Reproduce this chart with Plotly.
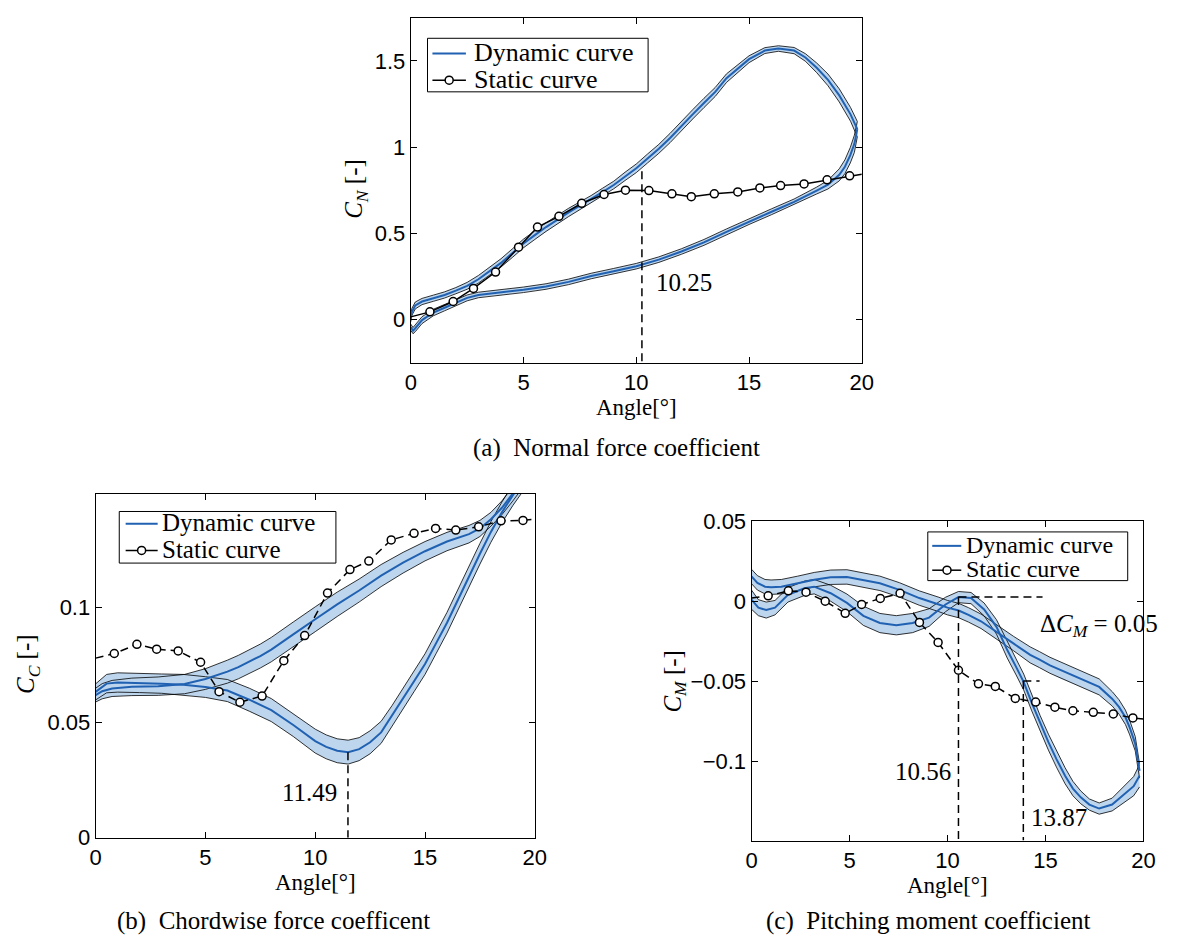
import plotly.graph_objects as go

W, H = 1186, 949

# ---------------- data ----------------
# Shared static-measurement angles (first/last entries are the line ends at 0 and 20 deg)
static_angle = [0, 0.85, 1.88, 2.78, 3.76, 4.78, 5.62, 6.57, 7.58, 8.57, 9.52,
                10.56, 11.58, 12.44, 13.46, 14.50, 15.48, 16.40, 17.44, 18.46, 19.46, 20]

# (a) Normal force coefficient
cn_static = [0.015, 0.044, 0.104, 0.180, 0.275, 0.419, 0.536, 0.598, 0.674, 0.725, 0.750,
             0.748, 0.729, 0.712, 0.729, 0.740, 0.763, 0.777, 0.786, 0.810, 0.833, 0.843]
cn_up_angle = [0, 0.05, 0.2, 0.5, 1, 1.5, 2, 2.5, 3, 3.5, 4, 4.5, 5, 5.5, 6, 7, 8, 8.5, 9, 9.5,
               10, 10.5, 11, 11.5, 12, 12.5, 13, 13.5, 14, 14.5, 15, 15.7, 16.3, 17, 17.5, 18,
               18.5, 19, 19.5, 19.8]
cn_up_mean = [0.006, 0.044, 0.081, 0.104, 0.123, 0.142, 0.167, 0.195, 0.233, 0.280, 0.328,
              0.384, 0.441, 0.489, 0.536, 0.621, 0.697, 0.739, 0.780, 0.830, 0.877, 0.934,
              0.990, 1.053, 1.123, 1.190, 1.256, 1.320, 1.400, 1.455, 1.510, 1.560, 1.572,
              1.560, 1.520, 1.460, 1.390, 1.300, 1.190, 1.104]
cn_up_std = [0.020, 0.020, 0.020, 0.018, 0.018, 0.018, 0.018, 0.020, 0.022, 0.024, 0.024,
             0.025, 0.025, 0.025, 0.025, 0.024, 0.022, 0.022, 0.022, 0.024, 0.025, 0.026,
             0.026, 0.027, 0.027, 0.027, 0.027, 0.026, 0.025, 0.022, 0.020, 0.017, 0.016,
             0.018, 0.022, 0.028, 0.034, 0.038, 0.040, 0.045]
cn_dn_angle = [19.8, 19.67, 19.49, 19.25, 19.0, 18.5, 18.0, 17.5, 17.0, 16, 15, 14, 13, 12, 11,
               10, 9, 8, 7, 6, 5, 4, 3.5, 3, 2.5, 2, 1.5, 1, 0.5, 0.2, 0.1, 0]
cn_dn_mean = [1.104, 1.019, 0.953, 0.886, 0.839, 0.782, 0.748, 0.716, 0.682, 0.625, 0.568,
              0.508, 0.447, 0.394, 0.347, 0.309, 0.280, 0.252, 0.218, 0.191, 0.172, 0.157,
              0.152, 0.142, 0.125, 0.095, 0.068, 0.040, -0.004, -0.051, -0.065, -0.045]
cn_dn_std = [0.045, 0.050, 0.045, 0.040, 0.035, 0.025, 0.020, 0.018, 0.017, 0.017, 0.017,
             0.017, 0.017, 0.016, 0.016, 0.016, 0.016, 0.016, 0.016, 0.016, 0.016, 0.016,
             0.016, 0.016, 0.017, 0.018, 0.018, 0.019, 0.020, 0.020, 0.018, 0.018]
cn_mark_angle, cn_mark_top = 10.25, 0.86

# (b) Chordwise force coefficient
cc_static = [0.0781, 0.0801, 0.0841, 0.0820, 0.0812, 0.0763, 0.0635, 0.0589, 0.0616, 0.0770,
             0.0879, 0.1064, 0.1166, 0.1203, 0.1295, 0.1324, 0.1345, 0.1338, 0.1352, 0.1378,
             0.1380, 0.1385]
cc_up_angle = [0, 0.3, 0.75, 1.65, 2.85, 4.05, 5, 5.5, 6, 6.5, 7, 7.5, 8, 8.5, 9, 10, 11, 12,
               13, 14, 15, 16, 17, 17.5, 18, 18.5, 19, 19.5, 20]
cc_up_mean = [0.0620, 0.0637, 0.0649, 0.0656, 0.0659, 0.0668, 0.0690, 0.0705, 0.0722, 0.0742,
              0.0765, 0.0790, 0.0818, 0.0850, 0.0884, 0.0950, 0.1015, 0.1075, 0.1140, 0.1196,
              0.1246, 0.1288, 0.1320, 0.1345, 0.1385, 0.1435, 0.1495, 0.1560, 0.1625]
cc_up_std = [0.0030, 0.0033, 0.0035, 0.0038, 0.0040, 0.0042, 0.0045, 0.0047, 0.0050, 0.0051,
             0.0052, 0.0052, 0.0053, 0.0053, 0.0054, 0.0054, 0.0053, 0.0050, 0.0048, 0.0045,
             0.0042, 0.0040, 0.0038, 0.0035, 0.0030, 0.0030, 0.0030, 0.0030, 0.0030]
cc_dn_angle = [20, 19.5, 19, 18.5, 18, 17.5, 17, 16.5, 16, 15.5, 15, 14.5, 14, 13.5, 13, 12.5,
               12, 11.5, 11, 10.5, 10, 9, 8, 7, 6, 5, 4, 3, 2, 1, 0.5, 0]
cc_dn_mean = [0.1625, 0.1560, 0.1490, 0.1415, 0.1330, 0.1235, 0.1135, 0.1035, 0.0935, 0.0845,
              0.0755, 0.0680, 0.0605, 0.0530, 0.0458, 0.0415, 0.0385, 0.0372, 0.0378, 0.0395,
              0.0420, 0.0490, 0.0555, 0.0600, 0.0640, 0.0655, 0.0665, 0.0670, 0.0673, 0.0675,
              0.0670, 0.0634]
cc_dn_std = [0.0045, 0.0045, 0.0045, 0.0045, 0.0045, 0.0045, 0.0045, 0.0045, 0.0045, 0.0045,
             0.0045, 0.0045, 0.0045, 0.0045, 0.0048, 0.0050, 0.0050, 0.0052, 0.0052, 0.0052,
             0.0052, 0.0050, 0.0050, 0.0050, 0.0048, 0.0045, 0.0045, 0.0042, 0.0042, 0.0042,
             0.0040, 0.0035]
cc_mark_angle, cc_mark_top = 11.49, 0.0372

# (c) Pitching moment coefficient
cm_static = [0.0020, 0.0034, 0.0065, 0.0057, 0.0000, -0.0075, -0.0020, 0.0018, 0.0050, -0.0132,
             -0.0257, -0.0431, -0.0516, -0.0532, -0.0607, -0.0630, -0.0662, -0.0684, -0.0694,
             -0.0704, -0.0729, -0.0735]
cm_up_angle = [0, 0.35, 0.75, 1.2, 1.86, 2.7, 3.2, 4.04, 4.87, 5.71, 6.55, 7.39, 8.22, 9.06,
               9.9, 10.56, 11.2, 11.87, 12.5, 13.05, 13.5, 13.89, 14.3, 14.72, 15.15, 15.56,
               16.0, 16.4, 16.8, 17.24, 17.74, 18.4, 19.08, 19.5, 19.8]
cm_up_mean = [0.0010, -0.0040, -0.0055, -0.0040, 0.0040, 0.0081, 0.0091, 0.0050, -0.0010,
              -0.0091, -0.0136, -0.0150, -0.0136, -0.0102, -0.0020, 0.0026, 0.0020, -0.0051,
              -0.0160, -0.0305, -0.0410, -0.0505, -0.0635, -0.0762, -0.0880, -0.0986, -0.1090,
              -0.1170, -0.1225, -0.1270, -0.1295, -0.1270, -0.1200, -0.1155, -0.1090]
cm_up_std = [0.0060, 0.0050, 0.0050, 0.0045, 0.0045, 0.0045, 0.0045, 0.0050, 0.0055, 0.0060,
             0.0060, 0.0060, 0.0060, 0.0055, 0.0045, 0.0035, 0.0035, 0.0040, 0.0045, 0.0050,
             0.0050, 0.0050, 0.0050, 0.0050, 0.0050, 0.0050, 0.0050, 0.0045, 0.0040, 0.0035,
             0.0035, 0.0040, 0.0050, 0.0060, 0.0070]
cm_dn_angle = [19.8, 19.75, 19.58, 19.3, 19.08, 18.75, 18.41, 17.74, 17.0, 16.4, 15.8, 15.23,
               14.7, 14.22, 13.38, 12.55, 11.71, 11.07, 10.57, 10.0, 9.56, 8.56, 7.55, 6.55,
               5.7, 4.87, 4.04, 3.2, 2.36, 1.52, 1.0, 0.69, 0.3, 0.05, 0]
cm_dn_mean = [-0.1060, -0.1015, -0.0890, -0.0790, -0.0725, -0.0660, -0.0610, -0.0535, -0.0495,
              -0.0465, -0.0435, -0.0400, -0.0365, -0.0335, -0.0265, -0.0195, -0.0125, -0.0085,
              -0.0058, -0.0040, -0.0020, 0.0020, 0.0071, 0.0112, 0.0132, 0.0152, 0.0150,
              0.0135, 0.0112, 0.0091, 0.0088, 0.0091, 0.0115, 0.0152, 0.0155]
cm_dn_std = [0.0045] * 7 + [0.0050] * 7 + [0.0045] * 21
cm_peak_angle, cm_peak_value = 10.56, 0.0026
cm_drop_angle, cm_drop_value = 13.87, -0.0498
cm_peak_line_end, cm_drop_line_end = 14.85, 14.70

x_ticks = [0, 5, 10, 15, 20]
legend_labels = ['Dynamic curve', 'Static curve']

# ---------------- style ----------------
BLUE = '#2161b2'
FILL = '#bdd6ee'
SERIF = 'Liberation Serif'
SANS = 'Liberation Sans'
DASH = '8px,5px'


def px(x):
    return x / W


def py(y):
    return 1 - y / H


fig = go.Figure()


def add_dynamic(branches, xa, ya):
    for ang, mean, std in branches:
        upper = [m + s for m, s in zip(mean, std)]
        lower = [m - s for m, s in zip(mean, std)]
        fig.add_trace(go.Scatter(x=ang + ang[::-1], y=upper + lower[::-1], fill='toself',
                                 fillcolor=FILL, mode='lines', line=dict(width=0),
                                 hoverinfo='skip', xaxis=xa, yaxis=ya))
    for ang, mean, std in branches:
        upper = [m + s for m, s in zip(mean, std)]
        lower = [m - s for m, s in zip(mean, std)]
        for edge in (upper, lower):
            fig.add_trace(go.Scatter(x=ang, y=edge, mode='lines',
                                     line=dict(color='black', width=0.8),
                                     hoverinfo='skip', xaxis=xa, yaxis=ya))
    for ang, mean, std in branches:
        fig.add_trace(go.Scatter(x=ang, y=mean, mode='lines', line=dict(color=BLUE, width=2),
                                 name=legend_labels[0], xaxis=xa, yaxis=ya))


def add_static(vals, xa, ya, dash):
    fig.add_trace(go.Scatter(x=static_angle, y=vals, mode='lines',
                             line=dict(color='black', width=1.5, dash=dash),
                             hoverinfo='skip', xaxis=xa, yaxis=ya))
    fig.add_trace(go.Scatter(x=static_angle[1:-1], y=vals[1:-1], mode='markers',
                             name=legend_labels[1],
                             marker=dict(symbol='circle', size=8, color='white',
                                         line=dict(color='black', width=1.5)),
                             xaxis=xa, yaxis=ya))


def add_dashed(xs, ys, xa, ya):
    fig.add_trace(go.Scatter(x=xs, y=ys, mode='lines',
                             line=dict(color='black', width=1.5, dash=DASH),
                             hoverinfo='skip', xaxis=xa, yaxis=ya))


CN_RANGE = [-0.25, 1.75]
CC_RANGE = [0, 0.1495]
CM_RANGE = [-0.1495, 0.05]

# (a)
add_dynamic([(cn_up_angle, cn_up_mean, cn_up_std), (cn_dn_angle, cn_dn_mean, cn_dn_std)], 'x', 'y')
add_static(cn_static, 'x', 'y', 'solid')
add_dashed([cn_mark_angle, cn_mark_angle], [cn_mark_top, CN_RANGE[0]], 'x', 'y')

# (b)
add_dynamic([(cc_up_angle, cc_up_mean, cc_up_std), (cc_dn_angle, cc_dn_mean, cc_dn_std)], 'x2', 'y2')
add_static(cc_static, 'x2', 'y2', DASH)
add_dashed([cc_mark_angle, cc_mark_angle], [cc_mark_top, CC_RANGE[0]], 'x2', 'y2')

# (c)
add_dynamic([(cm_up_angle, cm_up_mean, cm_up_std), (cm_dn_angle, cm_dn_mean, cm_dn_std)], 'x3', 'y3')
add_static(cm_static, 'x3', 'y3', DASH)
add_dashed([cm_peak_angle, cm_peak_angle], [cm_peak_value, CM_RANGE[0]], 'x3', 'y3')
add_dashed([cm_peak_angle, cm_peak_line_end], [cm_peak_value, cm_peak_value], 'x3', 'y3')
add_dashed([cm_drop_angle, cm_drop_angle], [cm_drop_value, CM_RANGE[0]], 'x3', 'y3')
add_dashed([cm_drop_angle, cm_drop_line_end], [cm_drop_value, cm_drop_value], 'x3', 'y3')


def axis(dom, rng, **kw):
    d = dict(domain=dom, range=rng, showline=True, linecolor='black', linewidth=1,
             mirror='ticks', ticks='inside', ticklen=6, tickcolor='black', tickwidth=1,
             showgrid=False, zeroline=False, fixedrange=True,
             tickfont=dict(family=SANS, size=22, color='black'))
    d.update(kw)
    return d


A_X = [px(411), px(869)]
A_Y = [py(360), py(6)]
B_X = [px(91), px(537)]
B_Y = [py(848), py(495)]
C_X = [px(757), px(1155)]
C_Y = [py(851), py(523)]

fig.update_layout(
    width=W, height=H, margin=dict(l=0, r=0, t=0, b=0),
    paper_bgcolor='white', plot_bgcolor='white', showlegend=False,
    xaxis=axis(A_X, [0, 20], anchor='y', tickvals=x_ticks),
    yaxis=axis(A_Y, CN_RANGE, anchor='x', tickvals=[0, 0.5, 1, 1.5],
               ticktext=['0', '0.5', '1', '1.5']),
    xaxis2=axis(B_X, [0, 20], anchor='y2', tickvals=x_ticks),
    yaxis2=axis(B_Y, CC_RANGE, anchor='x2', tickvals=[0, 0.05, 0.1],
                ticktext=['0', '0.05', '0.1']),
    xaxis3=axis(C_X, [0, 20], anchor='y3', tickvals=x_ticks),
    yaxis3=axis(C_Y, CM_RANGE, anchor='x3', tickvals=[-0.1, -0.05, 0, 0.05],
                ticktext=['\u22120.1', '\u22120.05', '0', '0.05']),
)


def label(text, x, y, size=25, angle=0, anchor='center'):
    fig.add_annotation(text=text, x=px(x), y=py(y), xref='paper', yref='paper',
                       showarrow=False, xanchor=anchor, yanchor='middle', textangle=angle,
                       font=dict(family=SERIF, size=size, color='black'))


def legend_box(box, rows, sample, marker_x, text_x, size):
    x0, y0, x1, y1 = box
    fig.add_shape(type='rect', xref='paper', yref='paper', x0=px(x0), x1=px(x1),
                  y0=py(y1), y1=py(y0), line=dict(color='black', width=1),
                  fillcolor='white', layer='above')
    fig.add_shape(type='line', xref='paper', yref='paper', x0=px(sample[0]), x1=px(sample[1]),
                  y0=py(rows[0]), y1=py(rows[0]), line=dict(color=BLUE, width=2), layer='above')
    fig.add_shape(type='line', xref='paper', yref='paper', x0=px(sample[0]), x1=px(sample[1]),
                  y0=py(rows[1]), y1=py(rows[1]), line=dict(color='black', width=1.5),
                  layer='above')
    fig.add_shape(type='circle', xref='paper', yref='paper', xsizemode='pixel',
                  ysizemode='pixel', xanchor=px(marker_x), yanchor=py(rows[1]),
                  x0=-4, x1=4, y0=-4, y1=4, fillcolor='white',
                  line=dict(color='black', width=1.5), layer='above')
    for text, ry in zip(legend_labels, rows):
        label(text, text_x, ry - 1, size=size, anchor='left')


# legends
legend_box((428, 27, 652, 82), (42.7, 70), (433, 467), 450, 473, 26)
legend_box((115, 513, 335, 566), (525.5, 553), (121.5, 154), 137.7, 156, 25)
legend_box((936, 534, 1139, 584), (548.3, 573.3), (940.5, 970), 955.5, 973, 24)

# (a)
label('Angle[°]', 640, 406, size=23)
label('<i>C</i><sub><i>N</i></sub> [-]', 355, 182, angle=-90)
label('10.25', 688, 278)
label('(a)  Normal force coefficient', 620, 448)
# (b)
label('Angle[°]', 314, 894, size=23)
label('<i>C</i><sub><i>C</i></sub> [-]', 22, 670, angle=-90)
label('11.49', 308, 802)
label('(b)  Chordwise force coefficent', 272, 934)
# (c)
label('Angle[°]', 956, 897, size=23)
label('<i>C</i><sub><i>M</i></sub> [-]', 679, 687, angle=-90)
label('10.56', 931, 780)
label('13.87', 1069, 827)
label('Δ<i>C</i><sub><i>M</i></sub> = 0.05', 1110, 630)
label('(c)  Pitching moment coefficient', 936, 934)

fig.write_html('out.html')
